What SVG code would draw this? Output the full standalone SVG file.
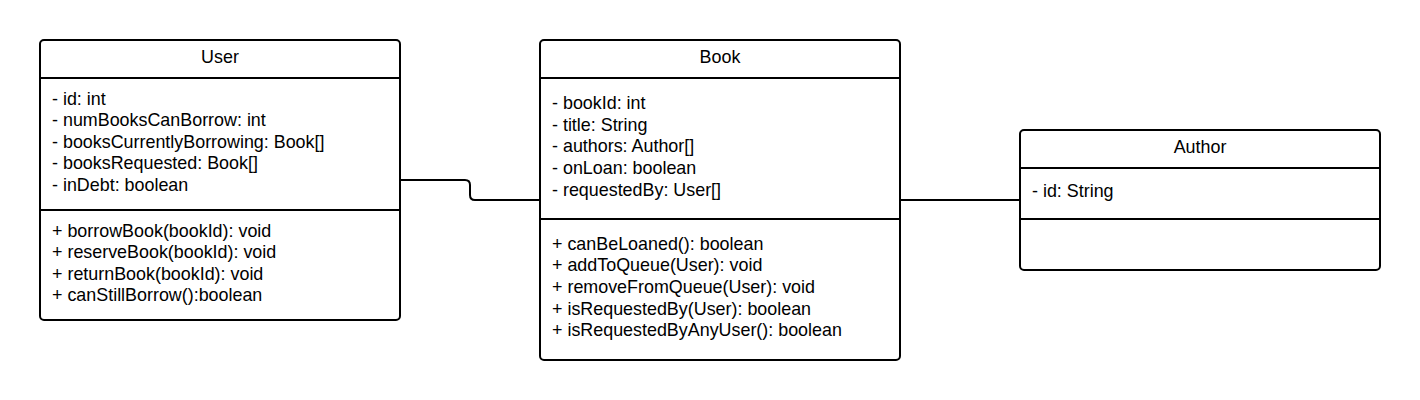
<svg xmlns="http://www.w3.org/2000/svg" width="1420" height="400" viewBox="0 0 1420 400">
<style>
.box{fill:#fff;stroke:#000;stroke-width:2}
.ln{stroke:#000;stroke-width:2;fill:none}
text{font-family:"Liberation Sans",Arial,sans-serif;font-size:17.9px;fill:#000}
.t{text-anchor:middle}
</style>
<rect width="1420" height="400" fill="#fff"/>
<g id="connectors">
<path class="ln" d="M400,180 H465 Q470,180 470,185 V195 Q470,200 475,200 H540"/>
<path class="ln" d="M900,200 H1020"/>
</g>
<g id="user">
<rect class="box" x="40" y="40" width="360" height="280" rx="4"/>
<line class="ln" x1="40" y1="78" x2="400" y2="78"/>
<line class="ln" x1="40" y1="210" x2="400" y2="210"/>
<text class="t" x="220" y="62.5">User</text>
<text x="52" y="104.5">- id: int</text>
<text x="52" y="126">- numBooksCanBorrow: int</text>
<text x="52" y="147.5">- booksCurrentlyBorrowing: Book[]</text>
<text x="52" y="169">- booksRequested: Book[]</text>
<text x="52" y="190.5">- inDebt: boolean</text>
<text x="52" y="236.5">+ borrowBook(bookId): void</text>
<text x="52" y="258">+ reserveBook(bookId): void</text>
<text x="52" y="279.5">+ returnBook(bookId): void</text>
<text x="52" y="301">+ canStillBorrow():boolean</text>
</g>
<g id="book">
<rect class="box" x="540" y="40" width="360" height="320" rx="4"/>
<line class="ln" x1="540" y1="78" x2="900" y2="78"/>
<line class="ln" x1="540" y1="219" x2="900" y2="219"/>
<text class="t" x="720" y="62.5">Book</text>
<text x="552" y="108.5">- bookId: int</text>
<text x="552" y="130.5">- title: String</text>
<text x="552" y="152">- authors: Author[]</text>
<text x="552" y="174">- onLoan: boolean</text>
<text x="552" y="195.5">- requestedBy: User[]</text>
<text x="552" y="249.5">+ canBeLoaned(): boolean</text>
<text x="552" y="271">+ addToQueue(User): void</text>
<text x="552" y="293">+ removeFromQueue(User): void</text>
<text x="552" y="314.5">+ isRequestedBy(User): boolean</text>
<text x="552" y="336">+ isRequestedByAnyUser(): boolean</text>
</g>
<g id="author">
<rect class="box" x="1020" y="130" width="360" height="140" rx="4"/>
<line class="ln" x1="1020" y1="168" x2="1380" y2="168"/>
<line class="ln" x1="1020" y1="219" x2="1380" y2="219"/>
<text class="t" x="1200" y="152.5">Author</text>
<text x="1032" y="196.5">- id: String</text>
</g>
</svg>
